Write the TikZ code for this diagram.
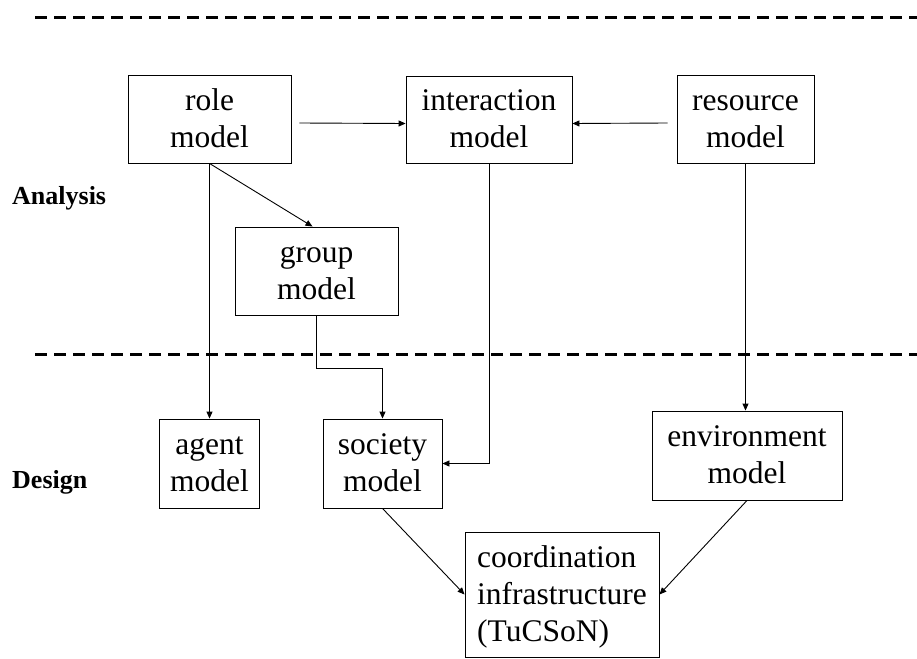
\documentclass[tikz,border=0pt]{standalone}
\usepackage{fontspec}
\setmainfont{Liberation Serif}
\usetikzlibrary{positioning,arrows.meta}
\newcommand{\boxstrut}{\rule[-9pt]{0pt}{37pt}}

\begin{document}
\begin{tikzpicture}[x=1pt,y=-1pt,
    box/.style={draw, line width=0.9pt, inner sep=0pt, align=center,
                font=\fontsize{31.5}{37}\selectfont},
    arr/.style={line width=0.9pt, -{Triangle[length=7pt,width=6pt]}},
    lbl/.style={anchor=west, inner sep=0pt, font=\fontsize{26}{30}\bfseries\selectfont},
    sep/.style={line width=3pt, dash pattern=on 12pt off 7pt}]
  \useasboundingbox (0,0) rectangle (917,658);
  % phase separators
  \draw[sep] (35,18) -- (917,18);
  \draw[sep] (35,354) -- (917,354);
  \node[lbl] (analysis) at (12,198) {Analysis};
  \node[lbl] (design) at (12,482) {Design};
  % analysis models
  \node[box, minimum width=163, minimum height=88] (role) at (209.5,119) {\boxstrut role\\model\boxstrut};
  \node[box, minimum width=166, minimum height=87] (interaction) at (489,119.5) {\boxstrut interaction\\model\boxstrut};
  \node[box, minimum width=137, minimum height=88] (resource) at (745.5,119) {\boxstrut resource\\model\boxstrut};
  \node[box, minimum width=163, minimum height=88] (group) at (316.5,271) {\boxstrut group\\model\boxstrut};
  % design models
  \node[box, minimum width=100, minimum height=89] (agent) at (209.5,463.5) {\boxstrut agent\\model\boxstrut};
  \node[box, minimum width=119, minimum height=89] (society) at (382.5,463.5) {\boxstrut society\\model\boxstrut};
  \node[box, minimum width=190, minimum height=89] (environment) at (747,455.5) {\boxstrut environment\\model\boxstrut};
  \node[box, align=left, minimum width=194, minimum height=125] (coord) at (562,594.5)
    {\boxstrut coordination\\infrastructure\\(TuCSoN)\boxstrut};
  % connections
  \draw[arr] ([xshift=8pt,yshift=-4pt]role.east) -- ([yshift=-4pt]interaction.west);
  \draw[arr] ([xshift=-9pt,yshift=-4pt]resource.west) -- ([yshift=-4pt]interaction.east);
  \draw[arr] (role.south) -- ([xshift=-4pt]group.north);
  \draw[arr] (role.south) -- (agent.north);
  \draw[arr] (group.south) -- ++(0,53) -| (society.north);
  \draw[arr] (interaction.south) |- (society.east);
  \draw[arr] (resource.south) -- (resource.south |- environment.north);
  \draw[arr] (society.south) -- (coord.west);
  \draw[arr] (environment.south) -- (coord.east);
\end{tikzpicture}
\end{document}
